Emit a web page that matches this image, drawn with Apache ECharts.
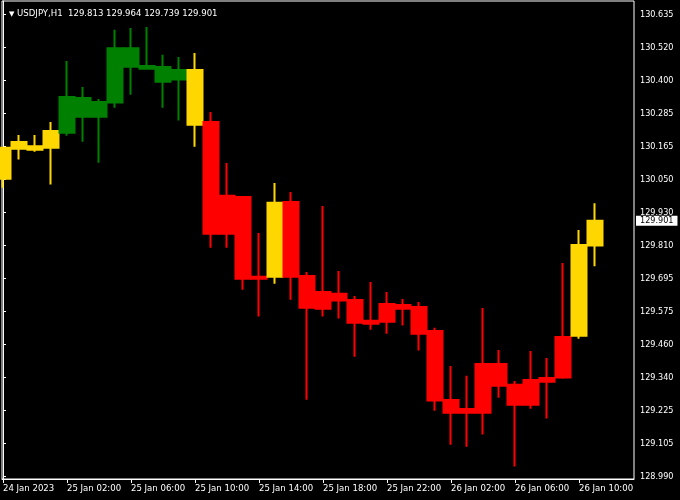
<!DOCTYPE html>
<html><head><meta charset="utf-8">
<script src="https://cdn.jsdelivr.net/npm/echarts@6/dist/echarts.min.js"></script>
<style>html,body{margin:0;padding:0;background:#000;}#c{width:680px;height:500px;}</style>
</head><body><div id="c"></div>
<script>
// ---- data ----
const symbol = 'USDJPY,H1';
const opens  = [130.051,130.158,130.167,130.161,130.215,130.338,130.272,130.322,130.516,130.452,130.449,130.404,130.438,130.253,129.855,129.986,129.695,129.702,129.968,129.705,129.588,129.641,129.619,129.535,129.542,129.601,129.594,129.509,129.263,129.231,129.218,129.391,129.317,129.246,129.328,129.343,129.492,129.813];
const closes = [130.161,130.182,130.154,130.221,130.342,130.272,130.324,130.516,130.450,130.443,130.396,130.438,130.243,129.855,129.990,129.695,129.702,129.965,129.702,129.592,129.648,129.617,129.538,129.545,129.605,129.588,129.499,129.261,129.218,129.218,129.391,129.314,129.246,129.334,129.341,129.487,129.815,129.901];
const lows   = [130.019,130.119,130.147,130.030,130.204,130.183,130.108,130.304,130.350,130.439,130.304,130.258,130.165,129.805,129.805,129.656,129.560,129.677,129.620,129.264,129.560,129.553,129.417,129.513,129.499,129.528,129.439,129.225,129.104,129.097,129.140,129.271,129.026,129.232,129.197,129.339,129.481,129.739];
const highs  = [130.163,130.207,130.207,130.253,130.470,130.378,130.335,130.581,130.588,130.591,130.492,130.484,130.499,130.289,130.107,129.986,129.858,130.036,130.004,129.719,129.954,129.722,129.633,129.683,129.648,129.623,129.612,129.520,129.384,129.349,129.591,129.441,129.331,129.438,129.413,129.751,129.868,129.964];
// indicator state of each bar: 'flat' (yellow), 'up' (green), 'down' (red)
const trend  = ['flat','flat','flat','flat','up','up','up','up','up','up','up','up','flat','down','down','down','down','flat','down','down','down','down','down','down','down','down','down','down','down','down','down','down','down','down','down','down','flat','flat'];
const xTickLabels = ['24 Jan 2023','25 Jan 02:00','25 Jan 06:00','25 Jan 10:00','25 Jan 14:00','25 Jan 18:00','25 Jan 22:00','26 Jan 02:00','26 Jan 06:00','26 Jan 10:00'];
const yTickLabels = ['128.990','129.105','129.225','129.340','129.460','129.575','129.695','129.810','129.930','130.050','130.165','130.285','130.400','130.520','130.635'];

// ---- presentation ----
const COLORS = { flat: '#FFD700', up: '#008000', down: '#FF0000' };
const FONT = '"DejaVu Sans Condensed","DejaVu Sans",sans-serif';
const X_TICK_EVERY = 4;
const Y_BASE = 128.99, Y_STEP = 0.1175;

const xTickValues = xTickLabels.map((_, k) => k * X_TICK_EVERY);
const yTickValues = yTickLabels.map((_, k) => +(Y_BASE + k * Y_STEP).toFixed(4));
const last = opens.length - 1;
const fmt = v => v.toFixed(3);

const data = opens.map((o, i) => {
  const c = COLORS[trend[i]];
  return { value: [i, o, closes[i], lows[i], highs[i]],
           itemStyle: { color: c, color0: c, borderColor: c, borderColor0: c } };
});

const chart = echarts.init(document.getElementById('c'), null, { renderer: 'canvas' });
chart.setOption({
  backgroundColor: '#000',
  animation: false,
  title: {
    left: 4, top: 4,
    text: '{tri|▼} ' + symbol + '  ' + [opens[last], highs[last], lows[last], closes[last]].map(fmt).join(' '),
    textStyle: {
      color: '#fff', fontSize: 9.5, fontWeight: 'normal', fontFamily: FONT,
      rich: { tri: { fontSize: 7, color: '#fff', fontFamily: 'DejaVu Sans' } }
    }
  },
  grid: { left: 2, right: 46, top: 1, bottom: 21, outerBoundsMode: 'none', containLabel: false,
          show: true, borderColor: '#fff', borderWidth: 1, backgroundColor: '#000' },
  xAxis: {
    type: 'value', min: -0.0625, max: 39.4375,
    splitLine: { show: false },
    axisLine: { lineStyle: { color: '#fff', width: 1 } },
    axisTick: { show: true, length: 4, lineStyle: { color: '#fff' }, customValues: xTickValues },
    axisLabel: {
      customValues: xTickValues, color: '#fff', fontSize: 9.5, fontFamily: FONT, align: 'left', margin: 5,
      formatter: v => xTickLabels[Math.round(v / X_TICK_EVERY)] || ''
    }
  },
  yAxis: [{
    type: 'value', position: 'right', min: 128.9818, max: 130.6838, scale: true,
    splitLine: { show: false },
    axisLine: { show: true, lineStyle: { color: '#fff', width: 1 } },
    axisTick: { show: true, length: 3, lineStyle: { color: '#fff' }, customValues: yTickValues },
    axisLabel: {
      customValues: yTickValues, color: '#fff', fontSize: 9, fontFamily: FONT, margin: 6,
      formatter: v => yTickLabels[Math.round((v - Y_BASE) / Y_STEP)] || ''
    }
  }, {
    type: 'value', position: 'right', min: 128.9818, max: 130.6838, scale: true,
    splitLine: { show: false }, axisLine: { show: false }, axisTick: { show: false },
    axisLabel: {
      customValues: [closes[last]], color: '#000', backgroundColor: '#fff', fontSize: 9, fontFamily: FONT,
      margin: 2, padding: [0, 4, 0, 4], lineHeight: 10,
      formatter: v => fmt(v)
    }
  }],
  series: [{
    type: 'candlestick',
    encode: { x: 0, y: [1, 2, 3, 4] },
    barWidth: 16,
    itemStyle: { borderWidth: 2 },
    emphasis: { disabled: true },
    clip: true,
    data: data
  }]
});
</script></body></html>
